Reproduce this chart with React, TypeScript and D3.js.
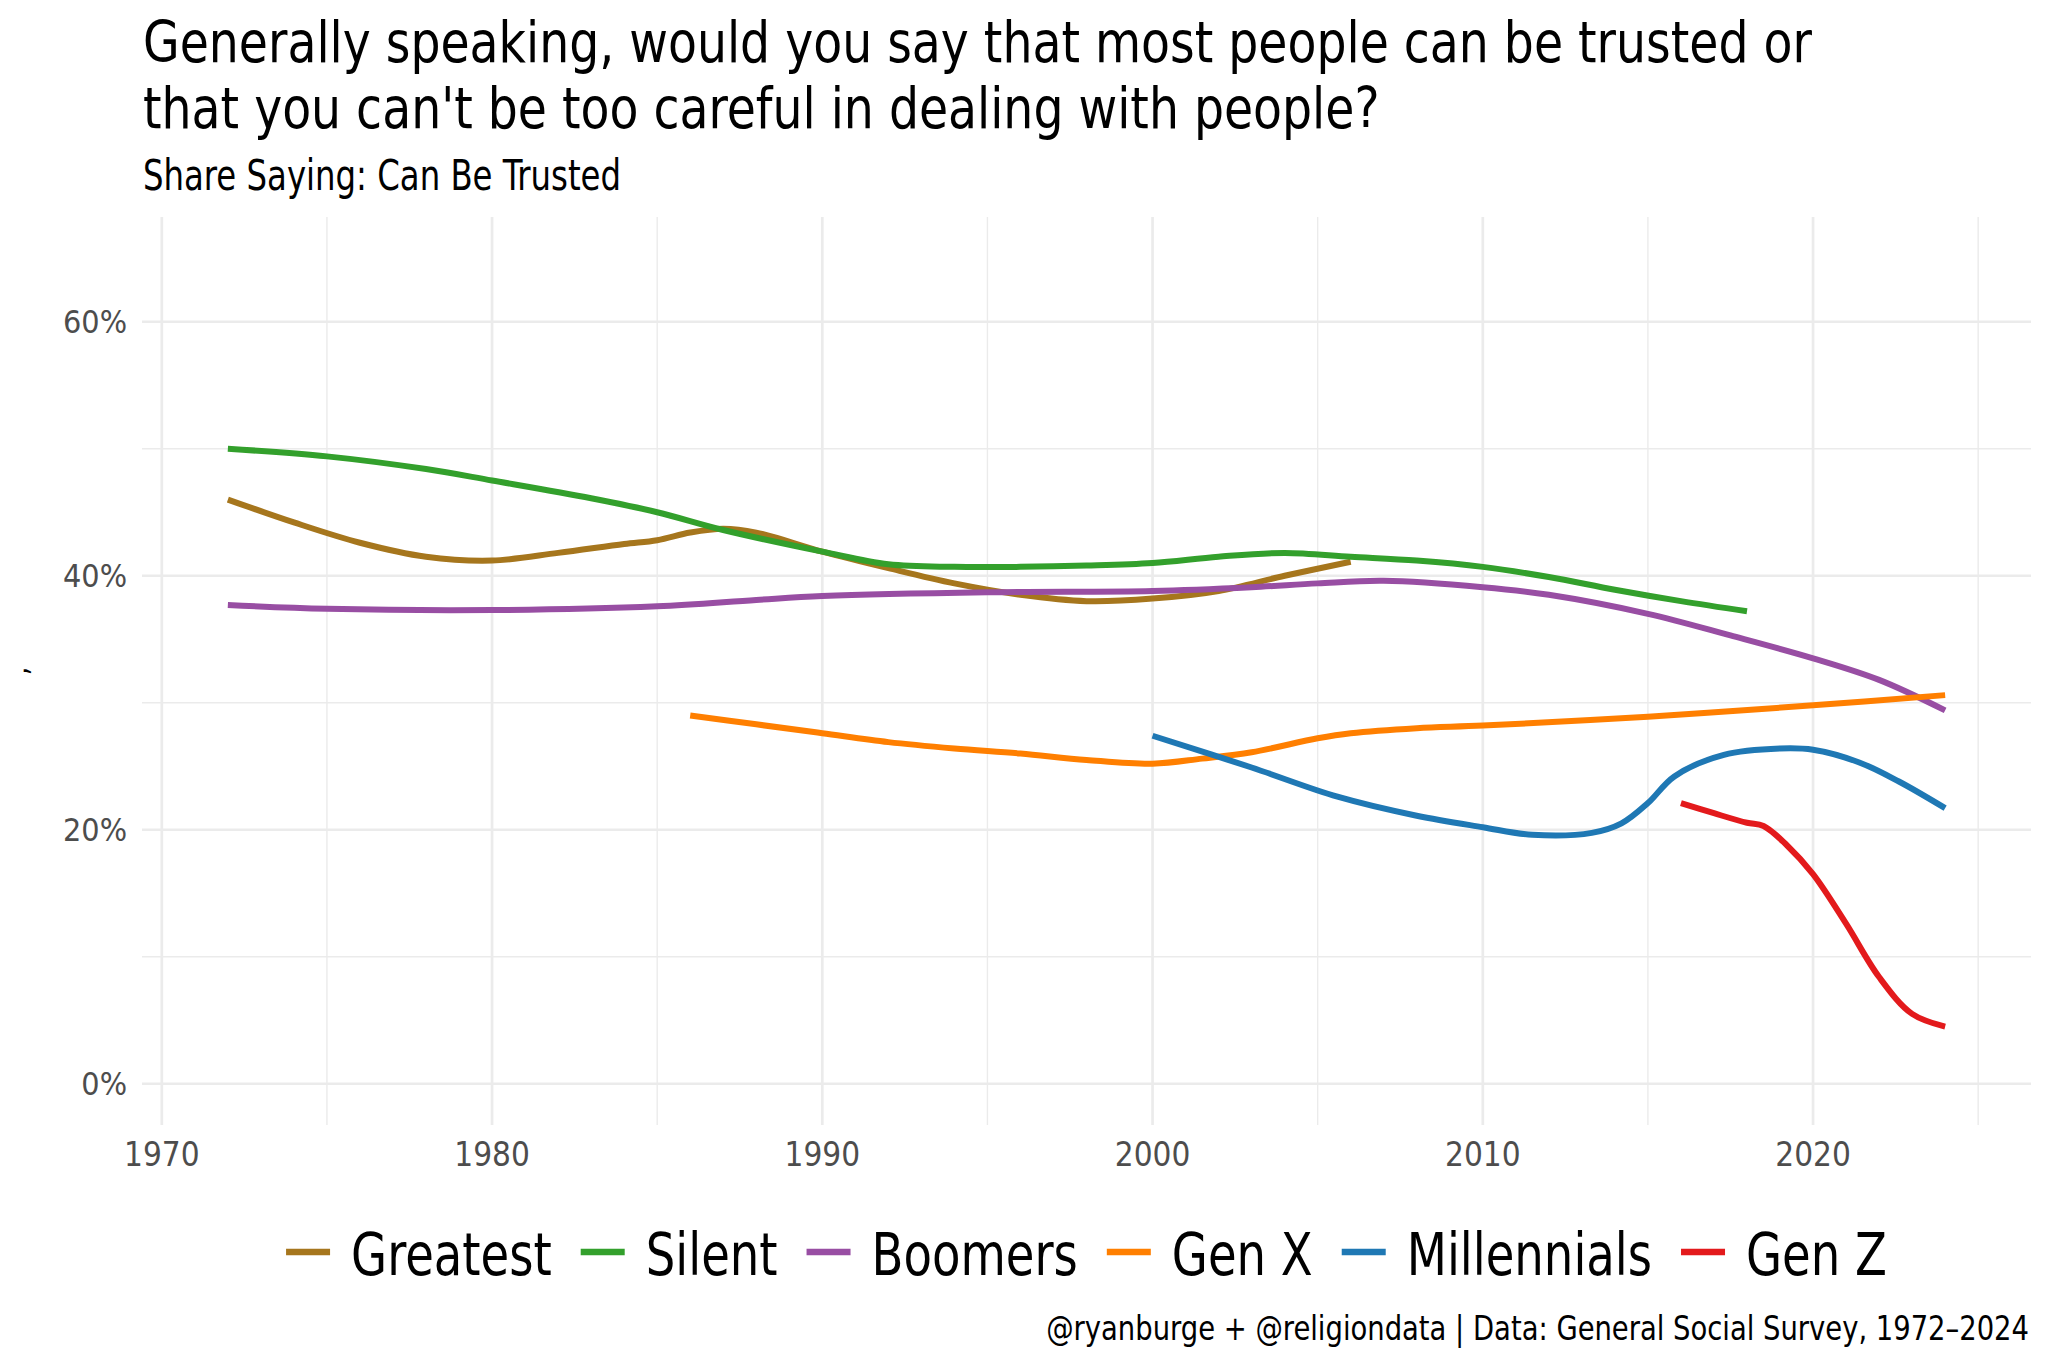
import React, { useEffect, useRef } from 'react'
import * as d3 from 'd3'

// values (year, share saying "can be trusted" in %)
const greatest: [number, number][] = [
  [1972, 46.0], [1974, 44.2], [1976, 42.6], [1978, 41.5], [1980, 41.2], [1982, 41.8],
  [1984, 42.5], [1985, 42.8], [1986, 43.4], [1987, 43.7], [1988, 43.4], [1990, 41.9],
  [1992, 40.6], [1994, 39.4], [1996, 38.5], [1998, 38.0], [2000, 38.2], [2002, 38.8],
  [2004, 40.0], [2006, 41.1],
]
const silent: [number, number][] = [
  [1972, 50.0], [1975, 49.4], [1978, 48.4], [1980, 47.5], [1983, 46.1], [1985, 45.0],
  [1987, 43.6], [1990, 41.9], [1992, 40.9], [1994, 40.7], [1996, 40.7], [1998, 40.8],
  [2000, 41.0], [2002, 41.5], [2004, 41.8], [2006, 41.5], [2008, 41.2], [2010, 40.7],
  [2012, 39.9], [2014, 38.9], [2016, 38.0], [2018, 37.2],
]
const boomers: [number, number][] = [
  [1972, 37.7], [1975, 37.4], [1980, 37.3], [1985, 37.6], [1988, 38.1], [1990, 38.4],
  [1995, 38.7], [2000, 38.8], [2003, 39.1], [2005, 39.4], [2007, 39.6], [2010, 39.1],
  [2012, 38.5], [2015, 37.0], [2017.5, 35.3], [2020, 33.5], [2022, 31.8], [2024, 29.4],
]
const genX: [number, number][] = [
  [1986, 29.0], [1988, 28.3], [1990, 27.6], [1992, 26.9], [1994, 26.4], [1996, 26.0],
  [1998, 25.5], [2000, 25.2], [2001.5, 25.6], [2003, 26.1], [2005, 27.2], [2006, 27.6],
  [2008, 28.0], [2010, 28.2], [2015, 28.9], [2020, 29.8], [2024, 30.6],
]
const millennials: [number, number][] = [
  [2000, 27.4], [2003, 24.9], [2005.6, 22.6], [2008, 21.1], [2010, 20.2], [2011.5, 19.6],
  [2013.3, 19.75], [2014.2, 20.5], [2015, 22.1], [2015.8, 24.2], [2017.3, 25.9],
  [2019, 26.4], [2020, 26.3], [2021.4, 25.3], [2022.6, 23.8], [2024, 21.7],
]
const genZ: [number, number][] = [
  [2016, 22.1], [2017, 21.3], [2018, 20.55], [2018.5, 20.3], [2019.2, 18.8], [2020, 16.5],
  [2021, 12.6], [2022, 8.4], [2023, 5.5], [2024, 4.5],
]

const seriesNames = ['Greatest', 'Silent', 'Boomers', 'Gen X', 'Millennials', 'Gen Z']
const seriesValues = [greatest, silent, boomers, genX, millennials, genZ]
const seriesColors = ['#a6761d', '#33a02c', '#984ea3', '#ff7f00', '#1f78b4', '#e31a1c']

const xMajor = [1970, 1980, 1990, 2000, 2010, 2020]
const xMinor = [1975, 1985, 1995, 2005, 2015, 2025]
const yMajor = [0, 20, 40, 60]
const yMinor = [10, 30, 50]

const titleLines = [
  'Generally speaking, would you say that most people can be trusted or',
  "that you can't be too careful in dealing with people?",
]
const subtitle = 'Share Saying: Can Be Trusted'
const caption = '@ryanburge + @religiondata | Data: General Social Survey, 1972\u20132024'

const FONT = "'DejaVu Sans Condensed', 'Liberation Sans Narrow', 'Roboto', sans-serif"

// squeeze a text horizontally so the wide fallback font reads like the narrow original
function condense(sel: d3.Selection<any, any, any, any>, factor: number) {
  sel.each(function () {
    const node = this as SVGTextElement
    const len = node.getComputedTextLength()
    d3.select(node).attr('textLength', len * factor).attr('lengthAdjust', 'spacingAndGlyphs')
  })
}

function App() {
  const width = 2048
  const height = 1365
  const refSvg = useRef<SVGSVGElement>(null)

  const draw = () => {
    const svg = d3.select(refSvg.current)
    svg.selectAll('*').remove()
    svg.style('font-family', FONT)

    const left = 142
    const right = 2031
    const top = 217
    const bottom = 1125

    // ggplot style 5% expansion on both axes
    const x = d3.scaleLinear().domain([1969.4, 2026.6]).range([left, right])
    const y = d3.scaleLinear().domain([-3.25, 68.25]).range([bottom, top])

    const grid = svg.append('g')
    grid.selectAll('.ymin').data(yMinor).join('line')
      .attr('x1', left).attr('x2', right)
      .attr('y1', (d) => y(d)).attr('y2', (d) => y(d))
      .attr('stroke', '#ebebeb').attr('stroke-width', 1.4)
    grid.selectAll('.xmin').data(xMinor).join('line')
      .attr('y1', top).attr('y2', bottom)
      .attr('x1', (d) => x(d)).attr('x2', (d) => x(d))
      .attr('stroke', '#ebebeb').attr('stroke-width', 1.4)
    grid.selectAll('.ymaj').data(yMajor).join('line')
      .attr('x1', left).attr('x2', right)
      .attr('y1', (d) => y(d)).attr('y2', (d) => y(d))
      .attr('stroke', '#ebebeb').attr('stroke-width', 2.7)
    grid.selectAll('.xmaj').data(xMajor).join('line')
      .attr('y1', top).attr('y2', bottom)
      .attr('x1', (d) => x(d)).attr('x2', (d) => x(d))
      .attr('stroke', '#ebebeb').attr('stroke-width', 2.7)

    // tick labels
    svg.append('g').selectAll('text').data(yMajor).join('text')
      .attr('x', 127).attr('y', (d) => y(d))
      .attr('dominant-baseline', 'central')
      .attr('text-anchor', 'end')
      .attr('font-size', 32).attr('fill', '#4d4d4d')
      .text((d) => `${d}%`)
    svg.append('g').selectAll('text').data(xMajor).join('text')
      .attr('x', (d) => x(d)).attr('y', 1166)
      .attr('text-anchor', 'middle')
      .attr('font-size', 33).attr('fill', '#4d4d4d')
      .text((d) => String(d))

    svg.append('text')
      .attr('transform', `translate(27, ${(top + bottom) / 2}) rotate(-90)`)
      .attr('text-anchor', 'middle')
      .attr('font-size', 30)
      .text(',')

    // lines
    const line = d3.line<[number, number]>()
      .x((d) => x(d[0]))
      .y((d) => y(d[1]))
      .curve(d3.curveCatmullRom.alpha(0.5))
    svg.append('g').selectAll('path').data(seriesValues).join('path')
      .attr('fill', 'none')
      .attr('stroke', (_, i) => seriesColors[i])
      .attr('stroke-width', 6)
      .attr('stroke-linejoin', 'round')
      .attr('d', (d) => line(d))

    // titles
    const titles = svg.append('g').selectAll('text').data(titleLines).join('text')
      .attr('x', 143).attr('y', (_, i) => 62 + i * 66)
      .attr('font-size', 57).attr('fill', '#000')
      .text((d) => d)
    condense(titles, 0.923)
    const sub = svg.append('text')
      .attr('x', 143).attr('y', 190)
      .attr('font-size', 42).attr('fill', '#000')
      .text(subtitle)
    condense(sub, 0.856)

    // legend, centred under the panel
    const legend = svg.append('g')
    const keyW = 44
    const keyGap = 21
    const itemGap = 29
    const squeeze = 0.877
    const items = seriesNames.map((name, i) => {
      const g = legend.append('g')
      g.append('line')
        .attr('x1', 0).attr('x2', keyW)
        .attr('y1', 1252).attr('y2', 1252)
        .attr('stroke', seriesColors[i]).attr('stroke-width', 6.5)
      const t = g.append('text')
        .attr('x', keyW + keyGap).attr('y', 1275)
        .attr('font-size', 59).attr('fill', '#000')
        .text(name)
      const w = (t.node() as SVGTextElement).getComputedTextLength() * squeeze
      condense(t, squeeze)
      return { g, w: keyW + keyGap + w }
    })
    const total = d3.sum(items, (d) => d.w) + itemGap * (items.length - 1)
    let cx = (left + right) / 2 - total / 2
    items.forEach((it) => {
      it.g.attr('transform', `translate(${cx},0)`)
      cx += it.w + itemGap
    })

    const cap = svg.append('text')
      .attr('x', 2029).attr('y', 1340)
      .attr('text-anchor', 'end')
      .attr('font-size', 34).attr('fill', '#000')
      .text(caption)
    condense(cap, 0.896)
  }

  useEffect(() => {
    document.body.style.margin = '0'
    if (refSvg.current) {
      draw()
    }
  })

  return (
    <svg ref={refSvg} width={width} height={height} style={{ display: 'block', background: '#fff' }} />
  )
}

export default App
